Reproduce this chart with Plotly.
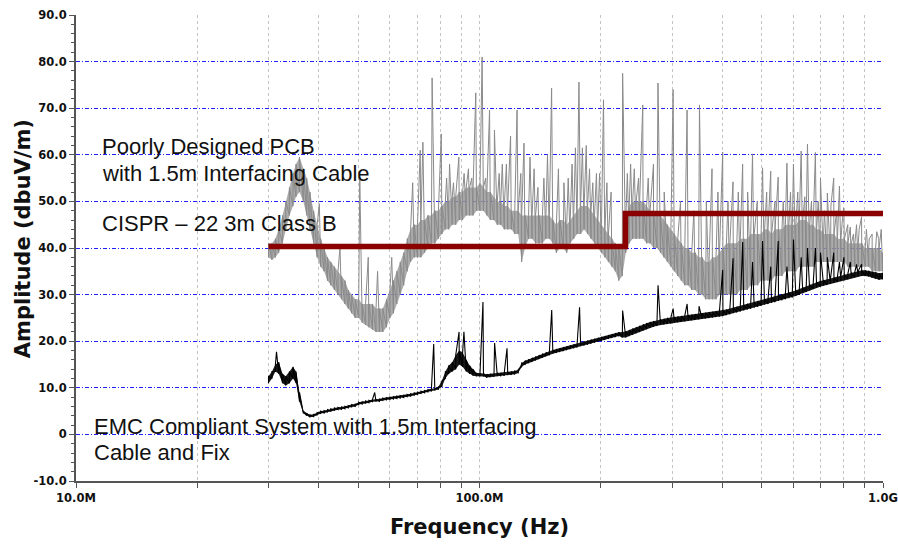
import plotly.graph_objects as go

# ---------------- data ----------------
# sweep bins of the receiver (MHz); each bin has a min/max reading
sweep_freq_mhz = [
    30.0, 30.6, 31.2, 31.8, 32.5, 33.1, 33.8, 34.5, 35.1, 35.8,
    36.6, 37.3, 38.0, 38.8, 39.6, 40.4, 41.2, 42.0, 42.8, 43.7,
    44.6, 45.5, 46.4, 47.3, 48.2, 49.2, 50.2, 51.2, 52.2, 53.2,
    54.3, 55.4, 56.5, 57.6, 58.8, 60.0, 61.2, 62.4, 63.6, 64.9,
    66.2, 67.5, 68.9, 70.2, 71.6, 73.1, 74.5, 76.0, 77.5, 79.1,
    80.7, 82.3, 83.9, 85.6, 87.3, 89.1, 90.8, 92.7, 94.5, 96.4,
    98.3, 100.3, 102.3, 104.3, 106.4, 108.6, 110.7, 112.9, 115.2, 117.5,
    119.9, 122.3, 124.7, 127.2, 129.7, 132.3, 135.0, 137.7, 140.4, 143.2,
    146.1, 149.0, 152.0, 155.1, 158.1, 161.3, 164.5, 167.8, 171.2, 174.6,
    178.1, 181.7, 185.3, 189.0, 192.8, 196.6, 200.6, 204.6, 208.7, 212.8,
    217.1, 221.4, 225.9, 230.4, 235.0, 239.7, 244.5, 249.4, 254.4, 259.5,
    264.7, 270.0, 275.4, 280.9, 286.5, 292.2, 298.1, 304.0, 310.1, 316.3,
    322.7, 329.1, 335.7, 342.4, 349.3, 356.2, 363.4, 370.6, 378.0, 385.6,
    393.3, 401.2, 409.2, 417.4, 425.8, 434.3, 443.0, 451.8, 460.9, 470.1,
    479.5, 489.1, 498.8, 508.8, 519.0, 529.4, 540.0, 550.8, 561.8, 573.0,
    584.5, 596.2, 608.1, 620.3, 632.7, 645.3, 658.2, 671.4, 684.8, 698.5,
    712.5, 726.7, 741.3, 756.1, 771.2, 786.7, 802.4, 818.4, 834.8, 851.5,
    868.5, 885.9, 903.6, 921.7, 940.1, 958.9, 978.1, 997.6,
]

# "Poorly Designed PCB" trace: min / max per bin (dBuV/m)
gray_low_dbuv = [
    38, 37.5, 38, 39, 41, 44, 47, 49, 51, 52,
    50, 47, 44, 41, 38, 36, 35, 33, 32, 31,
    30, 29, 28, 27, 26, 25, 25, 24, 23.5, 23,
    22.5, 22, 22, 22, 23, 25, 26, 28, 30, 32,
    35, 37, 38, 38, 38, 39, 40, 41, 41, 42,
    43, 44, 44, 45, 45, 46, 46, 47, 47, 47,
    48, 48, 48, 47, 46, 46, 45, 45, 44, 44,
    44, 43, 43, 37, 40, 42, 42, 41, 41, 41,
    42, 42, 41, 39, 40, 40, 39, 41, 42, 43,
    43, 44, 43, 42, 41, 40, 39, 38, 37, 36,
    35, 33, 34, 39, 41, 42, 42, 42, 42, 41,
    41, 40, 40, 39, 38, 37, 36, 35, 34, 33,
    32, 32, 31, 31, 30, 30, 29, 29, 29, 29,
    30, 30, 30, 30, 30, 30, 31, 31, 31, 32,
    32, 32, 33, 33, 33, 33, 34, 34, 34, 35,
    35, 35, 35, 36, 36, 36, 36, 36, 37, 37,
    37, 37, 37, 37, 37, 37, 37, 36, 36, 36,
    36, 36, 36, 36, 35, 35, 35, 35,
]
gray_high_dbuv = [
    41, 41, 42, 44, 47, 50, 53, 56, 58, 59.5,
    57, 55, 52, 48, 45, 42, 40, 38, 37, 36,
    35, 34, 33, 31, 30, 29, 29, 28, 28, 28,
    28, 27, 27, 27, 29, 31, 33, 35, 37, 39,
    42, 44, 45, 45, 46, 46, 47, 47, 48, 48,
    49, 50, 50, 51, 51, 52, 52, 53, 53, 53,
    53, 54, 53, 52, 52, 51, 50, 50, 49, 49,
    48, 48, 48, 47, 47, 47, 47, 47, 47, 47,
    47, 47, 46, 45, 46, 46, 45, 46, 47, 48,
    49, 49, 49, 48, 47, 46, 45, 44, 43, 42,
    41, 40, 41, 46, 49, 50, 50, 50, 50, 49,
    48, 48, 47, 47, 46, 45, 44, 43, 42, 41,
    40, 40, 39, 39, 38, 38, 37, 37, 38, 38,
    39, 40, 41, 41, 41, 41, 42, 42, 42, 43,
    43, 43, 43, 44, 44, 43, 44, 44, 44, 45,
    45, 45, 45, 46, 46, 46, 45, 45, 44, 44,
    43, 43, 43, 43, 42, 42, 42, 41, 41, 41,
    41, 41, 40, 40, 40, 40, 40, 39,
]
# narrow-band emissions (harmonics) of the gray trace
gray_spike_freq_mhz = [
    40.1, 45.1, 50.5, 53.0, 55.9, 60.6, 68.3, 71.3, 72.4, 76.3,
    80.4, 82.9, 84.3, 86.2, 88.9, 91.6, 93.9, 95.7, 97.9, 101.5,
    103.6, 105.9, 108.9, 111.9, 113.9, 116.6, 119.4, 123.9, 126.6, 128.9,
    133.4, 136.6, 139.6, 144.4, 147.4, 150.9, 156.9, 161.9, 165.9, 169.6,
    172.9, 176.4, 179.9, 183.9, 187.4, 190.9, 194.9, 198.4, 202.9, 206.9,
    211.9, 226.3, 232.5, 236.9, 241.9, 247.9, 253.9, 261.9, 269.9, 276.9,
    286.9, 301.9, 314.9, 326.9, 339.9, 350.9, 364.9, 376.9, 389.9, 400.6,
    412.9, 424.9, 437.9, 448.9, 461.9, 474.9, 487.9, 502.9, 514.9, 526.9,
    539.9, 549.9, 565.9, 577.9, 589.9, 599.9, 614.9, 626.9, 639.9, 649.9,
    664.9, 679.9, 690.9, 699.9, 715.9, 727.9, 742.9, 754.9, 767.9, 779.9,
    792.9, 799.9, 817.9, 829.9, 844.9, 859.9, 872.9, 885.0, 909.9, 924.9,
    939.9, 964.9, 975.9, 989.9,
]
gray_spike_dbuv = [
    49.5, 40, 55, 38, 35, 38, 54, 61, 62.7, 76.5,
    64.5, 55, 58, 54, 59.5, 56, 57, 55, 73.3, 81,
    55, 69.6, 65.3, 56, 58, 58, 64, 69.6, 56, 62.5,
    59.5, 57, 53, 55, 60, 74.3, 57, 54, 55, 58,
    61.5, 75.6, 61.5, 62, 57, 54, 56, 56, 71.8, 54,
    52, 77.5, 56, 58, 57, 55, 70.7, 55, 58, 75.4,
    52, 74, 50, 69.6, 48, 70.7, 50, 57, 52, 60.6,
    50, 54.2, 52, 58, 52, 60.2, 50, 57.2, 52, 56.5,
    50, 55.2, 50, 58.2, 52, 58, 52, 60.8, 51, 62.3,
    50, 60.5, 50, 55, 48, 51.8, 49, 55, 48, 53.3,
    46, 48.6, 45, 44.5, 43, 45, 44, 46.7, 44, 42,
    43, 43.5, 42, 44,
]

# "EMC Compliant System" trace: min / max per bin (dBuV/m)
black_low_dbuv = [
    11, 12, 13.5, 13, 11, 10.5, 11, 12, 11, 7,
    4.5, 4, 3.7, 3.8, 4.2, 4.5, 4.6, 4.8, 5.0, 5.2,
    5.3, 5.4, 5.5, 5.7, 5.9, 6.0, 6.4, 6.5, 6.7, 6.8,
    7.0, 7.0, 7.1, 7.3, 7.4, 7.5, 7.6, 7.7, 7.8, 7.9,
    8.1, 8.2, 8.4, 8.6, 8.8, 8.9, 9.1, 9.3, 9.4, 9.7,
    10.3, 12, 13, 13.5, 14, 15, 14.5, 13.5, 13, 12.6,
    12.5, 12.5, 12.4, 12.2, 12.3, 12.4, 12.5, 12.5, 12.6, 12.7,
    12.8, 12.9, 13.2, 14.5, 15, 15.3, 15.6, 15.9, 16.2, 16.5,
    16.8, 17, 17.3, 17.5, 17.7, 17.9, 18.1, 18.3, 18.5, 18.7,
    18.9, 19.1, 19.3, 19.5, 19.7, 19.9, 20.1, 20.3, 20.5, 20.7,
    20.9, 21.1, 20.8, 20.8, 21.1, 21.4, 21.7, 22, 22.3, 22.6,
    22.9, 23.1, 23.3, 23.5, 23.6, 23.7, 23.8, 24, 24.1, 24.2,
    24.3, 24.4, 24.5, 24.6, 24.7, 24.8, 24.9, 25, 25.1, 25.2,
    25.3, 25.4, 25.6, 25.8, 26, 26.2, 26.4, 26.6, 26.8, 27,
    27.2, 27.4, 27.6, 27.8, 28, 28.2, 28.4, 28.6, 28.8, 29,
    29.2, 29.4, 29.7, 30, 30.3, 30.6, 30.9, 31.2, 31.5, 31.7,
    31.9, 32.1, 32.3, 32.5, 32.7, 32.9, 33.1, 33.3, 33.5, 33.7,
    33.9, 34, 34, 33.9, 33.6, 33.4, 33.2, 33.3,
]
black_high_dbuv = [
    12.5, 13.5, 15, 15.5, 13, 12.5, 13.5, 14.5, 13.5, 9,
    5.0, 4.5, 4.2, 4.3, 4.7, 5.0, 5.1, 5.3, 5.5, 5.7,
    5.8, 5.9, 6.0, 6.2, 6.4, 6.5, 6.9, 7.0, 7.2, 7.3,
    7.5, 7.5, 7.6, 7.8, 7.9, 8.0, 8.1, 8.2, 8.3, 8.4,
    8.6, 8.7, 8.9, 9.1, 9.3, 9.4, 9.6, 9.8, 9.9, 10.2,
    11.5, 13.5, 14.8, 15.5, 17, 18, 17.5, 16, 14.8, 14,
    13.2, 13.2, 13.1, 12.9, 13.0, 13.1, 13.2, 13.2, 13.3, 13.4,
    13.5, 13.6, 13.9, 15.3, 15.8, 16.1, 16.4, 16.7, 17.0, 17.3,
    17.6, 17.8, 18.1, 18.3, 18.5, 18.7, 18.9, 19.1, 19.3, 19.5,
    19.7, 19.9, 20.1, 20.3, 20.5, 20.7, 20.9, 21.1, 21.3, 21.5,
    21.7, 21.9, 22, 22.1, 22.4, 22.7, 23, 23.3, 23.6, 23.9,
    24.1, 24.3, 24.5, 24.7, 24.8, 25, 25.1, 25.2, 25.3, 25.4,
    25.5, 25.6, 25.7, 25.8, 25.9, 26, 26.1, 26.2, 26.3, 26.4,
    26.5, 26.6, 26.8, 27, 27.2, 27.4, 27.6, 27.8, 28, 28.2,
    28.4, 28.6, 28.8, 29, 29.2, 29.4, 29.6, 29.8, 30, 30.2,
    30.4, 30.6, 30.9, 31.2, 31.5, 31.8, 32.1, 32.4, 32.7, 32.9,
    33.1, 33.3, 33.5, 33.7, 33.9, 34.1, 34.3, 34.5, 34.7, 34.9,
    35.1, 35.2, 35.2, 35.1, 34.9, 34.8, 34.6, 34.7,
]
black_spike_freq_mhz = [
    31.4, 55.0, 77.0, 89.0, 91.5, 102.0, 109.0, 117.0, 151.0, 177.0,
    226.3, 277.0, 302.0, 327.0, 350.0, 400.6, 425.0, 449.0, 475.0, 503.0,
    527.0, 550.0, 578.0, 600.0, 627.0, 650.0, 680.0, 700.0, 728.0, 755.0,
    780.0, 800.0, 830.0, 860.0, 885.0,
]
black_spike_dbuv = [
    17.7, 9.0, 19.4, 22, 22, 28.4, 19.6, 18.5, 26.7, 27.3,
    26.6, 32, 27, 28, 27.5, 35.3, 37.8, 41.3, 37, 41.5,
    36, 41.5, 36, 41.8, 38, 40, 40, 39, 38, 39,
    37, 38, 37, 36.5, 36.5,
]

# CISPR 22 class B limit (3 m)
limit_freq_mhz = [30, 230, 230, 1000]
limit_dbuv = [40.3, 40.3, 47.4, 47.4]

x_tick_mhz = [10, 20, 30, 40, 50, 60, 70, 80, 90,
              100, 200, 300, 400, 500, 600, 700, 800, 900, 1000]
x_tick_text = ["10.0M", "", "", "", "", "", "", "", "",
               "100.0M", "", "", "", "", "", "", "", "", "1.0G"]
y_tick_vals = [-10, 0, 10, 20, 30, 40, 50, 60, 70, 80, 90]
y_tick_text = ["-10.0", "0", "10.0", "20.0", "30.0", "40.0", "50.0",
               "60.0", "70.0", "80.0", "90.0"]

assert len(sweep_freq_mhz) == len(gray_low_dbuv) == len(gray_high_dbuv)
assert len(sweep_freq_mhz) == len(black_low_dbuv) == len(black_high_dbuv)
assert len(gray_spike_freq_mhz) == len(gray_spike_dbuv)
assert len(black_spike_freq_mhz) == len(black_spike_dbuv)

MHZ = 1e6
FONT = "Liberation Sans"
TITLE_FONT = "DejaVu Sans"


def trace_points(freqs, lows, highs, spike_f, spike_v):
    """Peak-hold style trace: each bin min->max, with narrow spikes merged in."""
    pts = []
    for f, lo, hi in zip(freqs, lows, highs):
        pts.append((f, lo))
        pts.append((f, hi))
    pts.extend(zip(spike_f, spike_v))
    pts.sort(key=lambda p: p[0])  # stable: keeps min->max order inside a bin
    return [p[0] * MHZ for p in pts], [p[1] for p in pts]


sweep_hz = [f * MHZ for f in sweep_freq_mhz]
gx, gy = trace_points(sweep_freq_mhz, gray_low_dbuv, gray_high_dbuv,
                      gray_spike_freq_mhz, gray_spike_dbuv)
bx, by = trace_points(sweep_freq_mhz, black_low_dbuv, black_high_dbuv,
                      black_spike_freq_mhz, black_spike_dbuv)

fig = go.Figure()
# gray band (min..max envelope), then its detailed trace
fig.add_trace(go.Scatter(x=sweep_hz, y=gray_low_dbuv, mode="lines",
                         line=dict(width=0, color="rgba(0,0,0,0)"),
                         showlegend=False, hoverinfo="skip"))
fig.add_trace(go.Scatter(x=sweep_hz, y=gray_high_dbuv, mode="lines",
                         line=dict(width=0, color="rgba(0,0,0,0)"),
                         fill="tonexty", fillcolor="rgba(150,150,150,0.8)",
                         showlegend=False, hoverinfo="skip"))
fig.add_trace(go.Scatter(x=gx, y=gy, mode="lines",
                         line=dict(color="#8a8a8a", width=1), showlegend=False))
# black band and trace
fig.add_trace(go.Scatter(x=sweep_hz, y=black_low_dbuv, mode="lines",
                         line=dict(width=0, color="rgba(0,0,0,0)"),
                         showlegend=False, hoverinfo="skip"))
fig.add_trace(go.Scatter(x=sweep_hz, y=black_high_dbuv, mode="lines",
                         line=dict(width=0, color="rgba(0,0,0,0)"),
                         fill="tonexty", fillcolor="rgba(0,0,0,0.9)",
                         showlegend=False, hoverinfo="skip"))
fig.add_trace(go.Scatter(x=bx, y=by, mode="lines",
                         line=dict(color="#000000", width=1.1), showlegend=False))
# limit line
fig.add_trace(go.Scatter(x=[f * MHZ for f in limit_freq_mhz], y=limit_dbuv,
                         mode="lines", line=dict(color="#8b0000", width=5.5),
                         showlegend=False))

text_font = dict(family=FONT, size=22, color="#111111")
notes = [
    ("Poorly Designed PCB", 0.030, 0.718),
    ("with 1.5m Interfacing Cable", 0.030, 0.660),
    ("CISPR \u2013 22 3m Class B", 0.030, 0.553),
    ("EMC Compliant System with 1.5m Interfacing", 0.020, 0.118),
    ("Cable and Fix", 0.020, 0.062),
]
for txt, xp, yp in notes:
    fig.add_annotation(text=txt, xref="paper", yref="paper", x=xp, y=yp,
                       xanchor="left", yanchor="middle", showarrow=False,
                       font=text_font)

tick_font = dict(family=TITLE_FONT, size=11.5, color="#111111", weight="bold")
title_font = dict(family=TITLE_FONT, size=21, color="#111111", weight="bold")

# y-axis title placed as rotated text next to the tick labels
fig.add_annotation(text="Amplitude (dbuV/m)", xref="paper", yref="paper",
                   x=-0.0657, y=0.521, xanchor="center", yanchor="middle",
                   textangle=-90, showarrow=False, font=title_font)

fig.update_layout(
    width=898, height=544,
    margin=dict(l=76, r=15, t=15, b=63),
    paper_bgcolor="white", plot_bgcolor="white",
    xaxis=dict(
        type="log", range=[7, 9], automargin=False,
        tickvals=[v * MHZ for v in x_tick_mhz], ticktext=x_tick_text,
        showgrid=True, gridcolor="#c4c4c4", griddash="3px,3px", gridwidth=1,
        showline=True, linecolor="#555555", linewidth=2,
        ticks="outside", ticklen=5, tickcolor="#555555",
        ticklabeloverflow="allow", tickfont=tick_font,
        title=dict(text="Frequency (Hz)", standoff=16, font=title_font),
        zeroline=False,
    ),
    yaxis=dict(
        range=[-10, 90], automargin=False,
        tickvals=y_tick_vals, ticktext=y_tick_text,
        showgrid=True, gridcolor="#2020ff", griddash="4px,2px,1px,2px", gridwidth=1,
        showline=True, linecolor="#555555", linewidth=2,
        ticks="outside", ticklen=5, tickcolor="#555555",
        minor=dict(dtick=2, tick0=0, ticks="outside", ticklen=3,
                   tickcolor="#555555", showgrid=False),
        tickfont=tick_font,
        zeroline=False,
    ),
)

fig.write_html("out.html", config={"displayModeBar": False},
               post_script="document.body.style.margin='0';"
                           "document.body.style.overflow='hidden';")
